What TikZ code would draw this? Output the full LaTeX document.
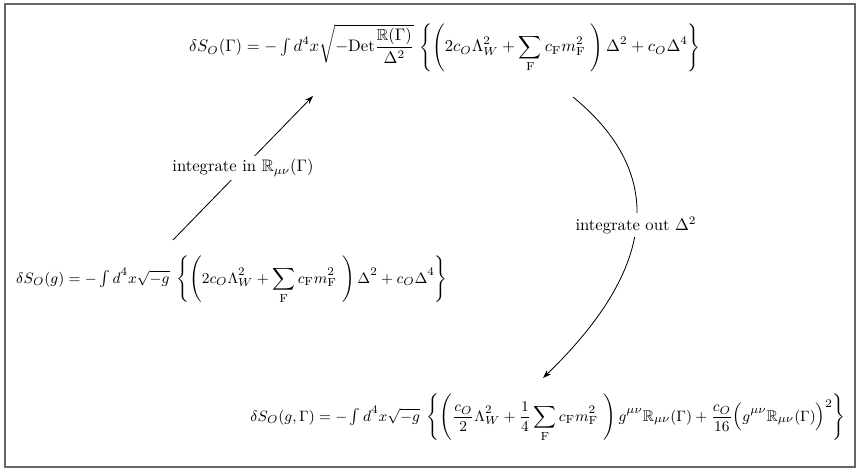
\documentclass[tikz,border=0pt]{standalone}
\usepackage{amsmath,amssymb}
\usetikzlibrary{arrows.meta}
\newcommand{\myint}{\mathop{\textstyle\int}\nolimits}
\begin{document}
\begin{tikzpicture}[x=0.6pt,y=-0.6pt,
  eqn/.style={inner sep=0pt,font=\fontsize{9.3}{11}\selectfont},
  lbl/.style={fill=white,inner sep=2pt,font=\fontsize{10}{12}\selectfont},
  conn/.style={line width=0.5pt,-{Stealth[length=5pt,width=3.5pt]}},
  frame/.style={draw=black!60,line width=0.8pt}]
\useasboundingbox (0,0) rectangle (861,472);
\draw[frame] (5,4) rectangle (855,467);
\node[eqn,font=\fontsize{9.6}{11}\selectfont] (eq1) at (445,48) {$\displaystyle \delta S_O(\Gamma) = -\myint d^4x \sqrt{-\mathrm{Det}\frac{\mathbb{R}(\Gamma)}{\Delta^2}}\,\left\{\left(2c_O\Lambda_W^2+\sum_{\mathrm F} c_{\mathrm F} m_{\mathrm F}^2\ \right)\Delta^2 + c_O\Delta^4\right\}$};
\node[eqn] (eq2) at (232,280) {$\displaystyle \delta S_O(g) = -\myint d^4x \sqrt{-g}\;\left\{\left(2c_O\Lambda_W^2+\sum_{\mathrm F} c_{\mathrm F} m_{\mathrm F}^2\ \right)\Delta^2 + c_O\Delta^4\right\}$};
\node[eqn] (eq3) at (548,418) {$\displaystyle \delta S_O(g,\Gamma) = -\myint d^4x \sqrt{-g}\;\left\{\left(\frac{c_O}{2}\Lambda_W^2+\frac14\sum_{\mathrm F} c_{\mathrm F} m_{\mathrm F}^2\ \right)g^{\mu\nu}\mathbb{R}_{\mu\nu}(\Gamma)+\frac{c_O}{16}\Big(g^{\mu\nu}\mathbb{R}_{\mu\nu}(\Gamma)\Big)^2\right\}$};
\coordinate (a1s) at (173,240);
\coordinate (a1e) at (313,96);
\coordinate (a2s) at (573,97);
\coordinate (a2e) at (543,378);
\draw[conn] (a1s) -- node[lbl] (l1) {integrate in $\mathbb{R}_{\mu\nu}(\Gamma)$} (a1e);
\draw[conn] (a2s) .. controls (667,174) and (657,268) .. node[lbl,pos=0.5] (l2) {integrate out $\Delta^2$} (a2e);
\end{tikzpicture}
\end{document}
